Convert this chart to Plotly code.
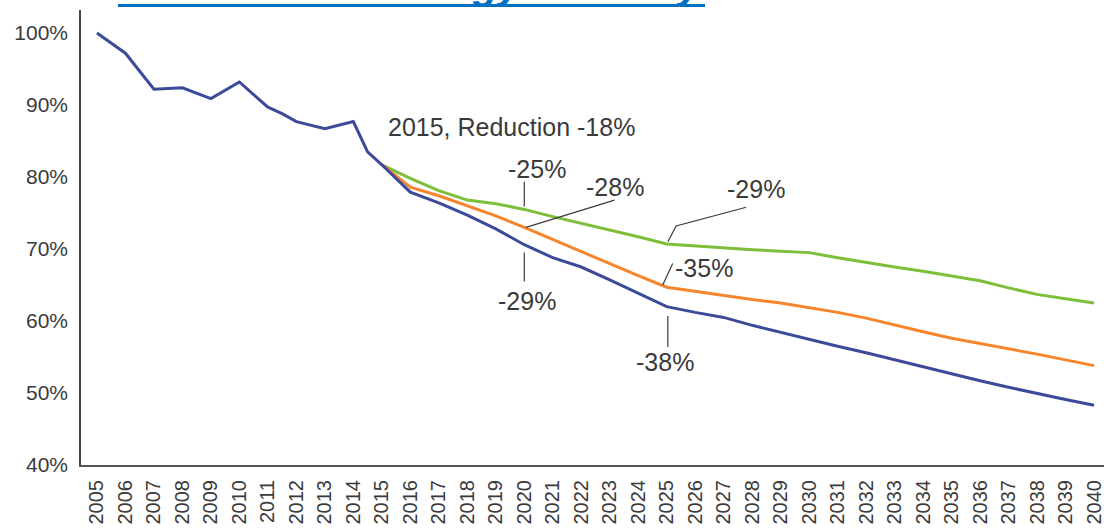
import plotly.graph_objects as go

# ---- data ----
hist_years = [2005, 2006, 2007, 2008, 2009, 2010, 2011, 2011.5, 2012, 2013, 2014, 2014.5]
hist_values = [100.0, 97.2, 92.2, 92.4, 90.9, 93.2, 89.7, 88.8, 87.7, 86.7, 87.7, 83.5]

proj_years = list(range(2015, 2041))
blue_proj = [81.7, 77.9, 76.4, 74.7, 72.8, 70.6, 68.8, 67.5, 65.7, 63.8, 62.0, 61.2, 60.5,
             59.4, 58.4, 57.5, 56.5, 55.6, 54.6, 53.6, 52.6, 51.7, 50.8, 49.9, 49.1, 48.3]
orange_proj = [81.7, 78.6, 77.4, 76.0, 74.6, 73.0, 71.3, 69.6, 68.0, 66.3, 64.7, 64.1, 63.5,
               63.0, 62.5, 61.9, 61.2, 60.4, 59.4, 58.5, 57.6, 56.9, 56.2, 55.4, 54.6, 53.8]
green_proj = [81.7, 79.8, 78.1, 76.8, 76.3, 75.5, 74.5, 73.6, 72.6, 71.7, 70.7, 70.4, 70.1,
              69.9, 69.7, 69.5, 68.8, 68.1, 67.5, 66.9, 66.3, 65.6, 64.6, 63.7, 63.1, 62.5]

tick_years = list(range(2005, 2041))
tick_labels = [str(y) for y in tick_years]
y_ticks = [40, 50, 60, 70, 80, 90, 100]
y_tick_labels = [f"{v}%" for v in y_ticks]

title_text = "Reduction of Energy Intensity"

# annotation labels: (text, x, y)
labels = [
    ("2015, Reduction -18%", 2019.55, 86.9),
    ("-25%", 2020.43, 81.1),
    ("-28%", 2023.2, 78.6),
    ("-29%", 2020.1, 62.8),
    ("-29%", 2028.15, 78.3),
    ("-35%", 2026.3, 67.4),
    ("-38%", 2024.95, 54.3),
]
# leader lines (polylines in data coordinates)
leaders = [
    [(2020.0, 79.35), (2020.0, 75.9)],
    [(2020.06, 73.0), (2023.17, 76.8)],
    [(2020.0, 69.5), (2020.0, 65.5)],
    [(2025.04, 71.0), (2025.33, 73.2), (2027.79, 75.8)],
    [(2024.86, 65.0), (2025.21, 68.0)],
    [(2025.04, 60.7), (2025.04, 56.4)],
]

BLUE = "#3D4A99"
ORANGE = "#F7852C"
GREEN = "#7DBE3A"
TEXT = "#3a3a3a"
FONT = "Liberation Sans, Arial, sans-serif"

W, H = 1104, 529
ML, MR, MT, MB = 81, 0, 10, 64
PW, PH = W - ML - MR, H - MT - MB

fig = go.Figure()
fig.add_trace(go.Scatter(x=proj_years, y=green_proj, mode="lines",
                         line=dict(color=GREEN, width=3), showlegend=False, hoverinfo="skip"))
fig.add_trace(go.Scatter(x=proj_years, y=orange_proj, mode="lines",
                         line=dict(color=ORANGE, width=3), showlegend=False, hoverinfo="skip"))
fig.add_trace(go.Scatter(x=hist_years + proj_years, y=hist_values + blue_proj, mode="lines",
                         line=dict(color=BLUE, width=3), showlegend=False, hoverinfo="skip"))

for text, x, y in labels:
    fig.add_annotation(x=x, y=y, xref="x", yref="y", text=text, showarrow=False,
                       font=dict(family=FONT, size=25, color=TEXT),
                       xanchor="center", yanchor="middle")

for pts in leaders:
    path = "M " + " L ".join(f"{px},{py}" for px, py in pts)
    fig.add_shape(type="path", path=path, xref="x", yref="y",
                  line=dict(color="#3a3a3a", width=1.2))

# cut-off title at the top
fig.add_annotation(x=(705 - ML) / PW, y=1 - (10 - MT) / PH, xref="paper", yref="paper",
                   text=f"<b><i>{title_text}</i></b>",
                   showarrow=False, font=dict(family=FONT, size=41, color="#0070C0"),
                   xanchor="right", yanchor="bottom")
fig.add_shape(type="line", xref="paper", yref="paper",
              x0=(118 - ML) / PW, x1=(705 - ML) / PW,
              y0=1 + (MT - 5.5) / PH, y1=1 + (MT - 5.5) / PH,
              line=dict(color="#0070C0", width=3))

fig.update_layout(
    width=W, height=H,
    margin=dict(l=ML, r=MR, t=MT, b=MB, autoexpand=False),
    paper_bgcolor="white", plot_bgcolor="white",
    xaxis=dict(range=[2004.44, 2040.35], tickmode="array", tickvals=tick_years,
               ticktext=tick_labels, tickangle=-90, showgrid=False, zeroline=False,
               showline=True, linecolor="#555555", linewidth=2, ticks="",
               ticklabelstandoff=5, automargin=False, ticklabeloverflow="allow",
               tickfont=dict(family=FONT, size=20, color=TEXT)),
    yaxis=dict(range=[40, 103.2], tickmode="array", tickvals=y_ticks,
               ticktext=y_tick_labels, showgrid=False, zeroline=False,
               showline=True, linecolor="#444444", linewidth=1.5, ticks="",
               ticklabelstandoff=7, automargin=False,
               tickfont=dict(family=FONT, size=21, color=TEXT)),
)

fig.write_html("out.html", config={"displayModeBar": False},
               post_script="document.body.style.margin='0';document.body.style.overflow='hidden';")
